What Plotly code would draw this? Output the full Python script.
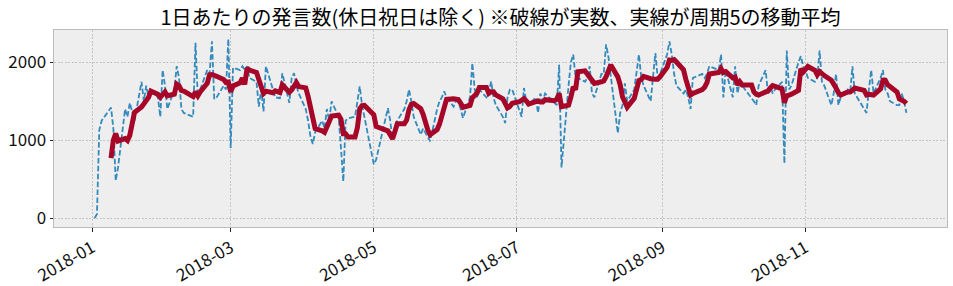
import pandas as pd
import plotly.graph_objects as go

# ---- data ----
holidays = ["2018-01-01", "2018-01-08", "2018-02-12", "2018-03-21", "2018-04-30",
            "2018-05-03", "2018-05-04", "2018-07-16", "2018-09-17", "2018-09-24",
            "2018-10-08", "2018-11-23"]
start_date = "2018-01-02"
end_date = "2018-12-14"

jan = [0, 50, 1130, 1250, 1420, 1150, 480, 650, 1400, 1300, 1480, 1350, 1250,
       1750, 1500, 1700, 1550, 1650, 1550, 1300, 1900]
feb = [1700, 1400, 1650, 1950, 1800, 1400, 1350, 1300, 2250, 1550, 1650, 1900,
       1850, 2270, 1530, 1550, 1700, 1650, 2300]
mar = [900, 1930, 1900, 1950, 1900, 1950, 1800, 1750, 1430, 1650, 1370, 1950,
       1650, 1550, 1540, 1860, 1480, 1800, 1860, 1700, 1600]
apr = [1400, 1250, 1050, 950, 1100, 1250, 1150, 1400, 1250, 1500, 1300, 900,
       470, 1250, 1280, 1300, 1500, 1690, 1450, 1300]
may = [690, 750, 1410, 1250, 1000, 1150, 1250, 1400, 1500, 1650, 1500, 1300,
       1070, 1150, 1100, 1050, 985, 1400, 1500, 1550, 1627]
jun = [1550, 1430, 1500, 1500, 1400, 1285, 1550, 1990, 1650, 1550, 1650, 1550,
       1600, 1756, 1550, 1450, 1300, 1220, 1550, 1650, 1650]
jul = [1400, 1300, 1670, 1500, 1450, 1550, 1350, 1600, 1500, 1600, 1480, 1450,
       1970, 650, 1700, 2000, 2100, 1800, 1800, 1750, 1800]
aug = [1950, 1600, 1550, 1850, 1850, 2230, 2070, 1825, 1090, 1350, 1450, 1730,
       1500, 1650, 1850, 2100, 1800, 1700, 1500, 1800, 2120, 1800, 1850]
sep = [2100, 2270, 2100, 1850, 1700, 1600, 1650, 1550, 1400, 1800, 1850, 1800,
       1850, 1950, 1900, 2100, 1550, 1900]
oct_ = [1550, 1950, 1600, 1750, 1700, 1550, 1500, 1450, 1700, 1900, 1600, 1700,
        1600, 1650, 1750, 700, 2150, 1650, 1700, 2000, 2080, 1950]
nov = [1900, 1800, 1750, 1800, 2150, 1750, 1700, 1450, 1600, 1850, 1450, 1550,
       1650, 1600, 1950, 1600, 1400, 1350, 1650, 1900, 1600]
dec = [1800, 1900, 1650, 1600, 1500, 1450, 1450, 1600, 1500, 1350]

title_text = "1日あたりの発言数(休日祝日は除く) ※破線が実数、実線が周期5の移動平均"
window = 5

# ---- build ----
dates = pd.bdate_range(start_date, end_date, freq="C", holidays=holidays)
values = jan + feb + mar + apr + may + jun + jul + aug + sep + oct_ + nov + dec
s = pd.Series(values, index=dates)
ma = s.rolling(window).mean()

span = dates[-1] - dates[0]
xr = [dates[0] - 0.05 * span, dates[-1] + 0.05 * span]
vmin, vmax = min(values), max(values)
yr = [vmin - 0.05 * (vmax - vmin), vmax + 0.05 * (vmax - vmin)]

font = "Noto Sans CJK JP"
fig = go.Figure()
fig.add_trace(go.Scatter(x=dates, y=s.values, mode="lines",
                         line=dict(color="#348ABD", width=1.8, dash="5.5px,2.4px"),
                         showlegend=False))
fig.add_trace(go.Scatter(x=dates, y=ma.values, mode="lines",
                         line=dict(color="#A60628", width=5),
                         showlegend=False))

grid = dict(showgrid=True, gridcolor="#c4c4c4", gridwidth=0.6, griddash="2px,1.5px",
            showline=True, linecolor="#bcbcbc", linewidth=1, mirror=True,
            ticks="outside", ticklen=3.5, tickwidth=1, tickcolor="#222222",
            zeroline=False, automargin=False,
            tickfont=dict(family=font, size=17, color="#111111"))

fig.update_layout(
    width=953, height=286,
    margin=dict(l=54, r=6, t=30, b=59),
    paper_bgcolor="white", plot_bgcolor="#eeeeee",
    font=dict(family=font, size=17, color="black"),
    title=dict(text=title_text, x=0.5, xref="paper", xanchor="center",
               y=1 - 18 / 286, yref="container", yanchor="middle",
               font=dict(family=font, size=20, color="black")),
)
fig.update_xaxes(range=xr, tickformat="%Y-%m", dtick="M2", tick0="2018-01-01",
                 tickangle=-30, **grid)
fig.update_yaxes(range=yr, dtick=1000, tick0=0, **grid)

fig.write_html("out.html")
